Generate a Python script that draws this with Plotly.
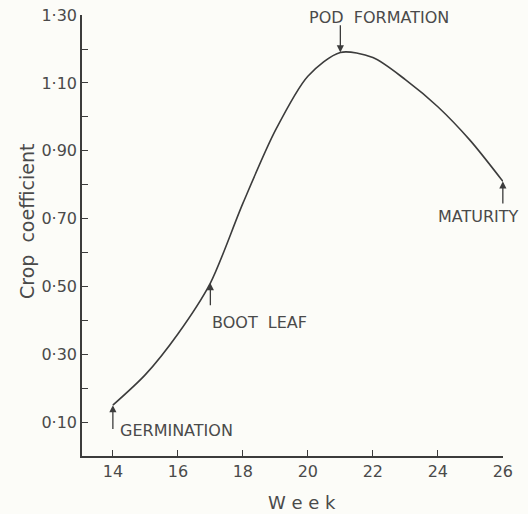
import plotly.graph_objects as go

weeks = [14, 15, 16, 17, 18, 19, 20, 21, 22, 23, 24, 25, 26]
crop_coef = [0.15, 0.24, 0.36, 0.51, 0.745, 0.96, 1.12, 1.19, 1.175, 1.11, 1.03, 0.93, 0.81]

x_ticks = [14, 16, 18, 20, 22, 24, 26]
y_ticks = [0.1, 0.2, 0.3, 0.4, 0.5, 0.6, 0.7, 0.8, 0.9, 1.0, 1.1, 1.2, 1.3]
y_ticktext = ["0·10", "", "0·30", "", "0·50", "", "0·70", "", "0·90", "", "1·10", "", "1·30"]

stages = ["GERMINATION", "BOOT  LEAF", "POD  FORMATION", "MATURITY"]
stage_week = [14, 17, 21, 26]
stage_value = [0.15, 0.51, 1.19, 0.81]

INK = "#3c3c3c"
TXT = "#4a4a4a"
FONT = "DejaVu Sans"

W, H = 528, 514
L, T = 82, 15
R = W - 503
B = H - 456
pw, ph = W - L - R, H - T - B

fig = go.Figure()
fig.add_trace(go.Scatter(
    x=weeks, y=crop_coef, mode="lines",
    line=dict(color=INK, width=1.6, shape="spline", smoothing=0.8),
    hoverinfo="skip", showlegend=False,
))

arrow_tail = [(14, 0.075), (17, 0.44), (21, 1.275), (26, 0.74)]
label_pos = [(14.15, 0.075), (17.0, 0.395), (19.98, 1.292), (23.94, 0.705)]

for i, name in enumerate(stages):
    tx, ty = arrow_tail[i]
    fig.add_annotation(
        x=stage_week[i], y=stage_value[i], ax=tx, ay=ty,
        xref="x", yref="y", axref="x", ayref="y",
        text="", showarrow=True, arrowhead=2, arrowsize=1.1,
        arrowwidth=1.3, arrowcolor=INK,
    )
    lx, ly = label_pos[i]
    fig.add_annotation(
        x=lx, y=ly, xref="x", yref="y", text=name, showarrow=False,
        xanchor="left", yanchor="middle",
        font=dict(family=FONT, size=16, color=TXT),
    )


def px_to_paper(px, py):
    return (px - L) / pw, (H - B - py) / ph


yx, yy = px_to_paper(27, 222)
fig.add_annotation(
    x=yx, y=yy, xref="paper", yref="paper", text="Crop  coefficient",
    showarrow=False, textangle=-90, xanchor="center", yanchor="middle",
    font=dict(family=FONT, size=19, color=TXT),
)
wx, wy = px_to_paper(302, 502)
fig.add_annotation(
    x=wx, y=wy, xref="paper", yref="paper", text="W e e k",
    showarrow=False, xanchor="center", yanchor="middle",
    font=dict(family=FONT, size=18, color=TXT),
)

fig.update_layout(
    width=W, height=H,
    margin=dict(l=L, r=R, t=T, b=B),
    paper_bgcolor="#fcfcf8", plot_bgcolor="#fcfcf8",
    font=dict(family=FONT, color=TXT),
)
fig.update_xaxes(
    range=[13.05, 26.005], tickvals=x_ticks, ticks="inside", ticklen=6,
    tickwidth=1.3, tickcolor=INK, showline=True, linecolor=INK, linewidth=1.5,
    showgrid=False, zeroline=False, ticklabeloverflow="allow", automargin=False,
    tickfont=dict(family=FONT, size=16, color=TXT),
)
fig.update_yaxes(
    range=[0, 1.3005], tickvals=y_ticks, ticktext=y_ticktext, ticks="inside",
    ticklen=6, tickwidth=1.3, tickcolor=INK, showline=True, linecolor=INK,
    linewidth=1.5, showgrid=False, zeroline=False, ticklabeloverflow="allow",
    automargin=False, tickfont=dict(family=FONT, size=16, color=TXT),
)

fig.write_html(
    "out.html",
    config={"displayModeBar": False},
    post_script="document.body.style.margin='0';document.body.style.overflow='hidden';document.body.style.background='#fcfcf8';",
)
